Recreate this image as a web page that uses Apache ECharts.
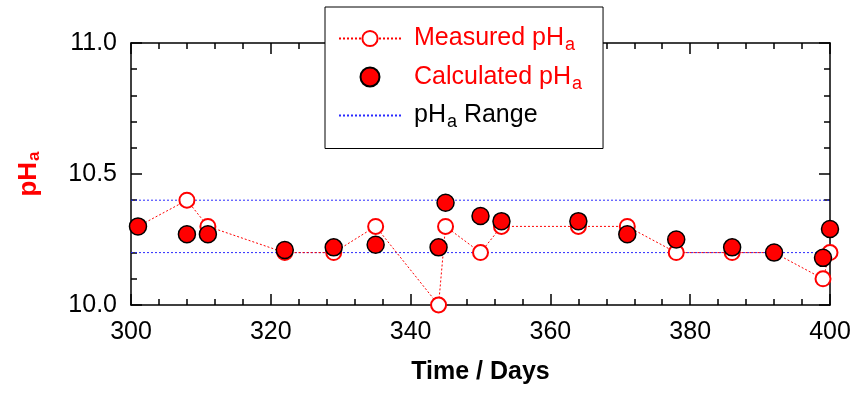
<!DOCTYPE html>
<html><head><meta charset="utf-8">
<script src="https://cdn.jsdelivr.net/npm/echarts@6/dist/echarts.min.js"></script>
<style>html,body{margin:0;padding:0;background:#fff}#c{width:856px;height:395px}</style>
</head><body><div id="c"></div>
<script>
const measuredDays = [301, 308, 311, 322, 329, 335, 344, 345, 350, 353, 364, 371, 378, 386, 392, 399, 400];
const measuredPH   = [10.30, 10.40, 10.30, 10.20, 10.20, 10.30, 10.00, 10.30, 10.20, 10.30, 10.30, 10.30, 10.20, 10.20, 10.20, 10.10, 10.20];
const calcDays = [301, 308, 311, 322, 329, 335, 344, 345, 350, 353, 364, 371, 378, 386, 392, 399, 400];
const calcPH   = [10.30, 10.27, 10.27, 10.21, 10.22, 10.23, 10.22, 10.39, 10.34, 10.32, 10.32, 10.27, 10.25, 10.22, 10.20, 10.18, 10.29];
const rangeLow = 10.20, rangeHigh = 10.40;
const xRange = [300, 400], yRange = [10.0, 11.0];

const FONT = 'Arial, "Liberation Sans", sans-serif';
const chart = echarts.init(document.getElementById('c'));
const pair = (xs, ys) => xs.map((x, i) => [x, ys[i]]);

const axisCommon = {
  axisLine: {show: true, lineStyle: {color: '#000', width: 1.5}},
  axisTick: {show: true, inside: true, length: 11, lineStyle: {color: '#000', width: 1.5}},
  minorTick: {show: true, splitNumber: 5, length: 6, lineStyle: {color: '#000', width: 1.5}},
  splitLine: {show: false}
};

chart.setOption({
  animation: false,
  backgroundColor: '#fff',
  grid: {left: 131, right: 26, top: 43, bottom: 90},
  xAxis: [
    Object.assign({type: 'value', min: xRange[0], max: xRange[1], interval: 20, position: 'bottom',
      name: 'Time / Days', nameLocation: 'middle', nameGap: 55,
      nameTextStyle: {fontFamily: FONT, fontSize: 25, fontWeight: 'bold', color: '#000'},
      axisLabel: {fontFamily: FONT, fontSize: 25, color: '#000', margin: 15}}, axisCommon),
    Object.assign({type: 'value', min: xRange[0], max: xRange[1], interval: 20, position: 'top',
      axisLabel: {show: false}}, axisCommon)
  ],
  yAxis: [
    Object.assign({type: 'value', min: yRange[0], max: yRange[1], interval: 0.5, position: 'left',
      name: '{m|pH}{s|a}', nameLocation: 'middle', nameGap: 88, nameRotate: 90,
      nameTextStyle: {rich: {
        m: {fontFamily: FONT, fontSize: 26, fontWeight: 'bold', color: '#ff0000'},
        s: {fontFamily: FONT, fontSize: 17, fontWeight: 'bold', color: '#ff0000', padding: [12, 0, 0, 1]}
      }},
      axisLabel: {fontFamily: FONT, fontSize: 25, color: '#000', margin: 14,
        formatter: v => v.toFixed(1)}}, axisCommon),
    Object.assign({type: 'value', min: yRange[0], max: yRange[1], interval: 0.5, position: 'right',
      axisLabel: {show: false}}, axisCommon)
  ],
  legend: {
    orient: 'vertical', left: 325, top: 7,
    backgroundColor: '#fff', borderColor: '#000', borderWidth: 1,
    padding: [19, 21, 17, 13], itemGap: 10, itemWidth: 62, itemHeight: 19,
    data: [
      {name: 'Measured pHa'},
      {name: 'Calculated pHa'},
      {name: 'pHa Range', itemStyle: {opacity: 0}}
    ],
    formatter: function (name) {
      if (name === 'Measured pHa') return '{r|Measured pH}{rs|a}';
      if (name === 'Calculated pHa') return '{r|Calculated pH}{rs|a}';
      return '{k0|pH}{ks|a}{k| Range}';
    },
    textStyle: {rich: {
      r: {fontFamily: FONT, fontSize: 25, color: '#ff0000', padding: [0, 0, 0, 8]},
      rs: {fontFamily: FONT, fontSize: 18, color: '#ff0000', padding: [14, 0, 0, 1]},
      k0: {fontFamily: FONT, fontSize: 25, color: '#000', padding: [0, 0, 0, 8]},
      k: {fontFamily: FONT, fontSize: 25, color: '#000'},
      ks: {fontFamily: FONT, fontSize: 18, color: '#000', padding: [14, 0, 0, 1]}
    }}
  },
  series: [
    {name: 'pHa Range', type: 'line', symbol: 'none', silent: true,
      data: [[xRange[0], rangeHigh], [xRange[1], rangeHigh]],
      lineStyle: {color: '#2a2aff', width: 1, type: [2, 2]}, itemStyle: {color: '#2a2aff'}},
    {name: 'pHa Range', type: 'line', symbol: 'none', silent: true,
      data: [[xRange[0], rangeLow], [xRange[1], rangeLow]],
      lineStyle: {color: '#2a2aff', width: 1, type: [2, 2]}, itemStyle: {color: '#2a2aff'}},
    {name: 'Measured pHa', type: 'line', symbol: 'emptyCircle', symbolSize: 15, showAllSymbol: true,
      data: pair(measuredDays, measuredPH),
      lineStyle: {color: '#ff0000', width: 1, type: [2, 2]},
      itemStyle: {color: '#ff0000', borderWidth: 1.5}},
    {name: 'Calculated pHa', type: 'scatter', symbol: 'circle', symbolSize: 17,
      data: pair(calcDays, calcPH), z: 3,
      itemStyle: {color: '#ff0000', borderColor: '#000', borderWidth: 1.5, opacity: 1}}
  ]
});
</script></body></html>
